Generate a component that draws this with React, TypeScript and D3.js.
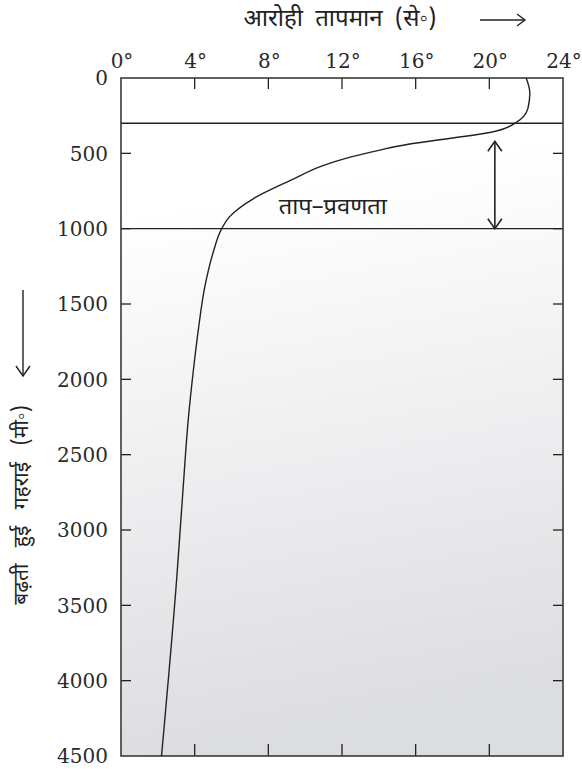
import { curveMonotoneY, line, scaleLinear } from 'd3'

// temperature profile
const depths = [0, 100, 200, 300, 360, 400, 440, 480, 530, 580, 680, 800, 920, 1000, 1160, 1380, 1670, 1940, 2270, 2710, 3330, 4500]
const temps = [22.0, 22.2, 22.1, 21.4, 20.1, 17.9, 15.6, 14.0, 12.3, 11.0, 9.2, 7.2, 5.9, 5.47, 5.0, 4.56, 4.2, 3.93, 3.65, 3.38, 3.02, 2.2]

const tempTicks = [0, 4, 8, 12, 16, 20, 24]
const depthTicks = [0, 500, 1000, 1500, 2000, 2500, 3000, 3500, 4000, 4500]
const layerBounds = [300, 1000]
const gradientSpan = [420, 1000]
const gradientTemp = 20.3

const xTitle = 'आरोही तापमान (से◦)'
const yTitle = 'बढ़ती हुई गहराई (मी◦)'
const zoneLabel = 'ताप–प्रवणता'
const zoneLabelAt = { temp: 11.5, depth: 900 }

type ProfilePoint = {
  readonly depth: number
  readonly temp: number
}

const serif = '"DejaVu Serif", serif'
const deva = '"Noto Sans Devanagari", "Noto Sans", sans-serif'

export default function App() {
  const width = 582
  const height = 769
  const left = 121
  const right = 563
  const top = 78
  const bottom = 756
  const ink = '#222'

  const x = scaleLinear().domain([0, 24]).range([left, right])
  const y = scaleLinear().domain([0, 4500]).range([top, bottom])

  const points: ProfilePoint[] = depths.map((depth, i) => ({ depth, temp: temps[i] }))
  const path =
    line<ProfilePoint>()
      .x((p) => x(p.temp))
      .y((p) => y(p.depth))
      .curve(curveMonotoneY)(points) ?? ''

  const innerTemp = tempTicks.slice(1, -1)
  const innerDepth = depthTicks.slice(1, -1)
  const ax = x(gradientTemp)
  const ay1 = y(gradientSpan[0])
  const ay2 = y(gradientSpan[1])

  return (
    <svg
      width={width}
      height={height}
      viewBox={`0 0 ${width} ${height}`}
      style={{ position: 'absolute', left: 0, top: 0, background: '#fff' }}
    >
      <defs>
        <linearGradient id="deep" x1="0" y1="0" x2="0.12" y2="1">
          <stop offset="0" stopColor="#ffffff" />
          <stop offset="0.2" stopColor="#ffffff" />
          <stop offset="1" stopColor="#dcdde0" />
        </linearGradient>
      </defs>

      <rect x={left} y={top} width={right - left} height={bottom - top} fill="url(#deep)" />

      {/* ticks */}
      <g stroke={ink} strokeWidth={1.3}>
        {innerTemp.map((t) => (
          <line key={`tt${t}`} x1={x(t)} x2={x(t)} y1={top} y2={top + 11} />
        ))}
        {innerTemp.map((t) => (
          <line key={`bt${t}`} x1={x(t)} x2={x(t)} y1={bottom} y2={bottom - 12} />
        ))}
        {innerDepth.map((d) => (
          <line key={`lt${d}`} x1={left} x2={left + 10} y1={y(d)} y2={y(d)} />
        ))}
        {innerDepth.map((d) => (
          <line key={`rt${d}`} x1={right} x2={right - 10} y1={y(d)} y2={y(d)} />
        ))}
      </g>

      {/* layer boundaries */}
      {layerBounds.map((d) => (
        <line key={`lb${d}`} x1={left} x2={right} y1={y(d)} y2={y(d)} stroke={ink} strokeWidth={1.4} />
      ))}

      <rect
        x={left}
        y={top}
        width={right - left}
        height={bottom - top}
        fill="none"
        stroke="#3a3a3a"
        strokeWidth={1.6}
      />

      <path d={path} fill="none" stroke={ink} strokeWidth={1.4} />

      {/* double arrow marking the thermocline */}
      <g stroke={ink} strokeWidth={1.6} fill="none">
        <line x1={ax} x2={ax} y1={ay1} y2={ay2} />
        <polyline points={`${ax - 7},${ay1 + 10} ${ax},${ay1} ${ax + 7},${ay1 + 10}`} />
        <polyline points={`${ax - 7},${ay2 - 10} ${ax},${ay2} ${ax + 7},${ay2 - 10}`} />
      </g>

      <text
        x={x(zoneLabelAt.temp)}
        y={y(zoneLabelAt.depth)}
        textAnchor="middle"
        fontFamily={deva}
        fontSize={22}
        textLength={108}
        lengthAdjust="spacingAndGlyphs"
        fill={ink}
      >
        {zoneLabel}
      </text>

      {/* tick labels */}
      {tempTicks.map((t) => (
        <text key={`tl${t}`} x={x(t) + 1} y={68} textAnchor="middle" fontFamily={serif} fontSize={20} fill="#2a2a2a">
          {`${t}°`}
        </text>
      ))}
      {depthTicks.map((d) => (
        <text
          key={`dl${d}`}
          x={108}
          y={y(d)}
          dy="0.36em"
          textAnchor="end"
          fontFamily={serif}
          fontSize={20}
          fill="#2a2a2a"
        >
          {d}
        </text>
      ))}

      {/* axis titles */}
      <text
        x={340}
        y={26}
        textAnchor="middle"
        fontFamily={deva}
        fontSize={24}
        style={{ wordSpacing: '6px' }}
        fill={ink}
      >
        {xTitle}
      </text>
      <g stroke={ink} strokeWidth={1.4} fill="none">
        <line x1={480} x2={525} y1={20} y2={20} />
        <polyline points="517,14 525,20 517,26" />
      </g>

      <text
        transform="translate(21,505) rotate(-90)"
        textAnchor="middle"
        dy="0.35em"
        fontFamily={deva}
        fontSize={21}
        style={{ wordSpacing: '11px' }}
        fill={ink}
      >
        {yTitle}
      </text>
      <g stroke={ink} strokeWidth={1.4} fill="none">
        <line x1={23} x2={23} y1={290} y2={376} />
        <polyline points="16,366 23,376 30,366" />
      </g>
    </svg>
  )
}
